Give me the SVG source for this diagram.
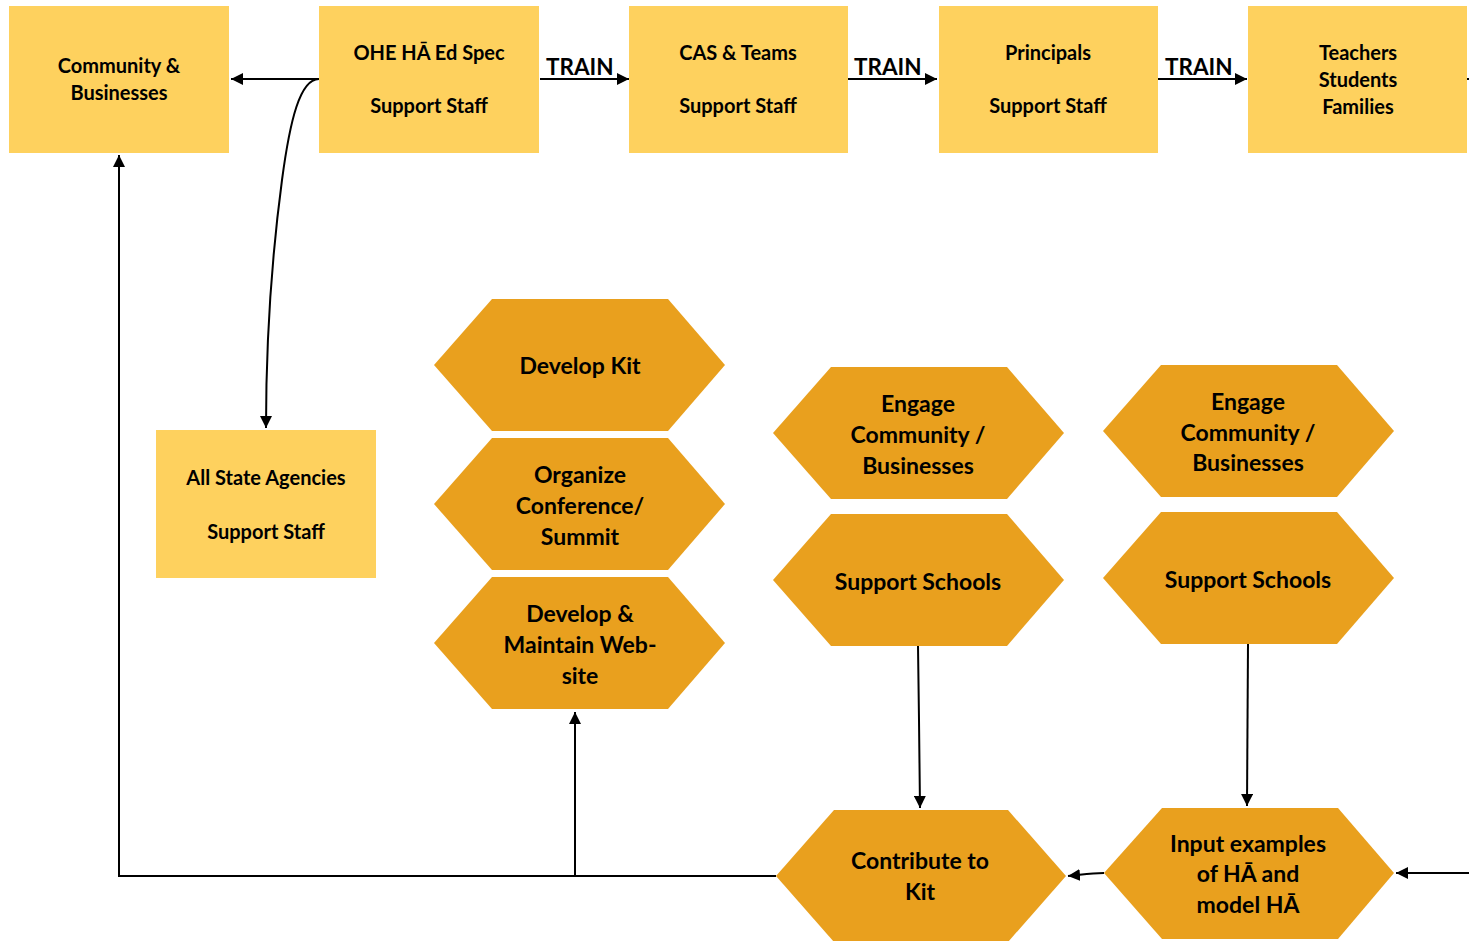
<svg xmlns="http://www.w3.org/2000/svg" width="1469" height="941" viewBox="0 0 1469 941">
<defs>
<style>
.box{fill:#FED15E}
.hex{fill:#E9A01E}
.t{font-family:Lato,"Open Sans","Liberation Sans",sans-serif;font-weight:bold;fill:#000;text-anchor:middle;dominant-baseline:central}
.bt{font-size:20px}
.ht{font-size:23px}
.tr{font-size:22.5px;text-anchor:start}
.c{fill:none;stroke:#000;stroke-width:2}
</style>
<marker id="ah" viewBox="0 0 10 10" refX="10" refY="5" markerWidth="6" markerHeight="6" markerUnits="strokeWidth" orient="auto">
<path d="M0,0L10,5L0,10z" fill="#000"/>
</marker>
</defs>
<rect width="1469" height="941" fill="#fff"/>

<g id="connectors">
<path class="c" d="M319,79H231" marker-end="url(#ah)"/>
<path class="c" d="M319,79C300,79 290,120 282,180S266,330 266,428" marker-end="url(#ah)"/>
<path class="c" d="M540,79H629" marker-end="url(#ah)"/>
<path class="c" d="M848,79H937" marker-end="url(#ah)"/>
<path class="c" d="M1158,79H1247" marker-end="url(#ah)"/>
<path class="c" d="M1467,79H1469"/>
<path class="c" d="M918,646L919,720L920,808" marker-end="url(#ah)"/>
<path class="c" d="M1248,643L1247,806" marker-end="url(#ah)"/>
<path class="c" d="M1104,873C1090,873 1080,875 1068,876" marker-end="url(#ah)"/>
<path class="c" d="M1469,873H1396" marker-end="url(#ah)"/>
<path class="c" d="M776,876H119V155" marker-end="url(#ah)"/>
<path class="c" d="M575,876V712" marker-end="url(#ah)"/>
</g>

<g id="train-labels">
<text class="t tr" x="546" y="66">TRAIN</text>
<text class="t tr" x="854" y="66">TRAIN</text>
<text class="t tr" x="1165" y="66">TRAIN</text>
</g>

<g id="community">
<rect class="box" x="9" y="6" width="220" height="147"/>
<text class="t bt" x="119" y="65">Community &amp;</text>
<text class="t bt" x="119" y="92">Businesses</text>
</g>
<g id="ohe">
<rect class="box" x="319" y="6" width="220" height="147"/>
<text class="t bt" x="429" y="52">OHE HĀ Ed Spec</text>
<text class="t bt" x="429" y="105">Support Staff</text>
</g>
<g id="cas">
<rect class="box" x="629" y="6" width="219" height="147"/>
<text class="t bt" x="738" y="52">CAS &amp; Teams</text>
<text class="t bt" x="738" y="105">Support Staff</text>
</g>
<g id="principals">
<rect class="box" x="939" y="6" width="219" height="147"/>
<text class="t bt" x="1048" y="52">Principals</text>
<text class="t bt" x="1048" y="105">Support Staff</text>
</g>
<g id="teachers">
<rect class="box" x="1248" y="6" width="219" height="147"/>
<text class="t bt" x="1358" y="52">Teachers</text>
<text class="t bt" x="1358" y="79">Students</text>
<text class="t bt" x="1358" y="106">Families</text>
</g>
<g id="agencies">
<rect class="box" x="156" y="430" width="220" height="148"/>
<text class="t bt" x="266" y="477">All State Agencies</text>
<text class="t bt" x="266" y="531">Support Staff</text>
</g>

<g id="develop-kit">
<polygon class="hex" points="434,365 492,299 668,299 725,365 668,431 492,431"/>
<text class="t ht" x="580" y="365">Develop Kit</text>
</g>
<g id="organize">
<polygon class="hex" points="434,504 492,438 668,438 725,504 668,570 492,570"/>
<text class="t ht" x="580" y="474">Organize</text>
<text class="t ht" x="580" y="505">Conference/</text>
<text class="t ht" x="580" y="536">Summit</text>
</g>
<g id="website">
<polygon class="hex" points="434,643 492,577 668,577 725,643 668,709 492,709"/>
<text class="t ht" x="580" y="613">Develop &amp;</text>
<text class="t ht" x="580" y="644">Maintain Web-</text>
<text class="t ht" x="580" y="675">site</text>
</g>
<g id="engage1">
<polygon class="hex" points="773,433 831,367 1007,367 1064,433 1007,499 831,499"/>
<text class="t ht" x="918" y="403">Engage</text>
<text class="t ht" x="918" y="434">Community /</text>
<text class="t ht" x="918" y="465">Businesses</text>
</g>
<g id="support1">
<polygon class="hex" points="773,580 831,514 1007,514 1064,580 1007,646 831,646"/>
<text class="t ht" x="918" y="581">Support Schools</text>
</g>
<g id="engage2">
<polygon class="hex" points="1103,431 1161,365 1337,365 1394,431 1337,497 1161,497"/>
<text class="t ht" x="1248" y="401">Engage</text>
<text class="t ht" x="1248" y="432">Community /</text>
<text class="t ht" x="1248" y="462">Businesses</text>
</g>
<g id="support2">
<polygon class="hex" points="1103,578 1161,512 1337,512 1394,578 1337,644 1161,644"/>
<text class="t ht" x="1248" y="579">Support Schools</text>
</g>
<g id="contribute">
<polygon class="hex" points="776,876 834,810 1008,810 1066,876 1008,942 834,942"/>
<text class="t ht" x="920" y="860">Contribute to</text>
<text class="t ht" x="920" y="891">Kit</text>
</g>
<g id="input">
<polygon class="hex" points="1104,873 1162,808 1338,808 1394,873 1338,939 1162,939"/>
<text class="t ht" x="1248" y="843">Input examples</text>
<text class="t ht" x="1248" y="873">of HĀ and</text>
<text class="t ht" x="1248" y="904">model HĀ</text>
</g>
</svg>
